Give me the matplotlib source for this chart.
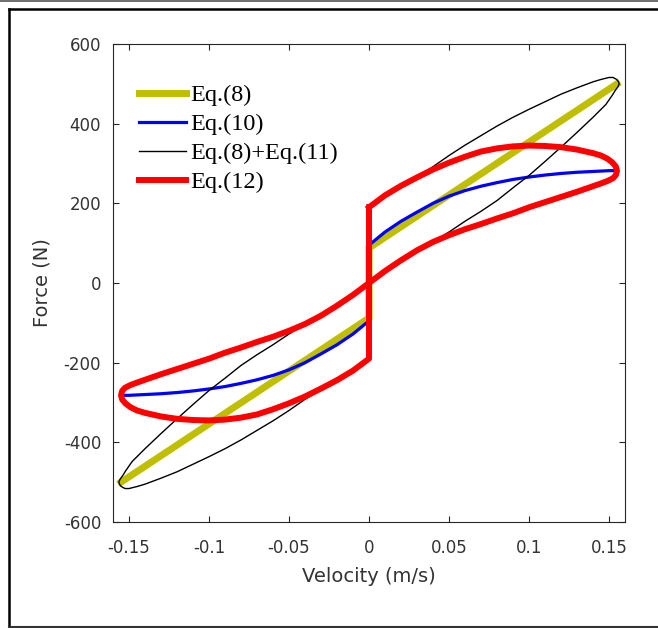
import matplotlib
matplotlib.use("Agg")
import matplotlib.pyplot as plt
from matplotlib.lines import Line2D

# ---- data ----
eq8_v = [-0.155, 0.0, 0.0, 0.155]
eq8_f = [-500, -88, 88, 500]

eq10_v = [-0.155, -0.15, -0.14, -0.13, -0.12, -0.11, -0.10, -0.09, -0.08, -0.07, -0.06, -0.05,
          -0.04, -0.03, -0.02, -0.01, 0.0, 0.0, 0.01, 0.02, 0.03, 0.04, 0.05, 0.06, 0.07, 0.08,
          0.09, 0.10, 0.11, 0.12, 0.13, 0.14, 0.15, 0.155]
eq10_f = [-282, -282, -280, -278, -275, -271, -266, -260, -252, -243, -232, -218,
          -200, -178, -155, -128, -95, 95, 128, 155, 178, 200, 218, 232, 243, 252,
          260, 266, 271, 275, 278, 280, 282, 282]

# Eq.(8)+Eq.(11): closed loop
eq811_v = [0.0, 0.01, 0.02, 0.03, 0.04, 0.05, 0.06, 0.07, 0.08, 0.09, 0.10, 0.11, 0.12, 0.13,
           0.14, 0.145, 0.15, 0.1525, 0.1548, 0.156, 0.1563,
           0.1555, 0.154, 0.152, 0.148, 0.14, 0.13, 0.12, 0.11, 0.10, 0.09, 0.08, 0.07, 0.06,
           0.05, 0.04, 0.03, 0.02, 0.01, 0.0,
           -0.01, -0.02, -0.03, -0.04, -0.05, -0.06, -0.07, -0.08, -0.09, -0.10, -0.11, -0.12,
           -0.13, -0.14, -0.148, -0.152, -0.154, -0.1555, -0.1563,
           -0.156, -0.1548, -0.1525, -0.15, -0.145, -0.14, -0.13, -0.12, -0.11, -0.10, -0.09,
           -0.08, -0.07, -0.06, -0.05, -0.04, -0.03, -0.02, -0.01, 0.0, 0.0]
eq811_f = [190, 218, 243, 268, 292, 320, 346, 370, 394, 416, 436, 455, 474, 490,
           505, 511, 516, 516, 511, 505, 499,
           492, 484, 471, 448, 416, 378, 341, 305, 270, 239, 207, 180, 155,
           128, 104, 82, 57, 30, 0,
           -30, -57, -82, -104, -128, -155, -180, -207, -239, -270, -305, -341,
           -378, -416, -448, -471, -484, -492, -499,
           -505, -511, -516, -516, -511, -505, -490, -474, -455, -436, -416,
           -394, -370, -346, -320, -292, -268, -243, -218, -190, 190]

# Eq.(12): closed loop
eq12_v = [0.0, 0.01, 0.02, 0.03, 0.04, 0.05, 0.06, 0.07, 0.08, 0.09, 0.10, 0.11, 0.12, 0.13,
          0.14, 0.145, 0.149, 0.152, 0.1542, 0.155,
          0.1543, 0.1525, 0.149, 0.145, 0.14, 0.13, 0.12, 0.11, 0.10, 0.09, 0.08, 0.07,
          0.06, 0.05, 0.04, 0.03, 0.02, 0.01, 0.0,
          -0.01, -0.02, -0.03, -0.04, -0.05, -0.06, -0.07, -0.08, -0.09, -0.10, -0.11, -0.12,
          -0.13, -0.14, -0.145, -0.149, -0.1525, -0.1543, -0.155,
          -0.1542, -0.152, -0.149, -0.145, -0.14, -0.13, -0.12, -0.11, -0.10, -0.09, -0.08,
          -0.07, -0.06, -0.05, -0.04, -0.03, -0.02, -0.01, 0.0, 0.0]
eq12_f = [190, 220, 244, 265, 285, 302, 317, 330, 338, 343, 345, 344, 341, 335,
          326, 320, 312, 303, 293, 282,
          271, 263, 256, 250, 243, 229, 216, 203, 190, 175, 162, 148,
          135, 120, 103, 82, 57, 30, 0,
          -30, -57, -82, -103, -120, -135, -148, -162, -175, -190, -203, -216,
          -229, -243, -250, -256, -263, -271, -282,
          -293, -303, -312, -320, -326, -335, -341, -344, -345, -343, -338,
          -330, -317, -302, -285, -265, -244, -220, -190, 190]

x_ticks = [-0.15, -0.1, -0.05, 0, 0.05, 0.1, 0.15]
x_ticklabels = ["-0.15", "-0.1", "-0.05", "0", "0.05", "0.1", "0.15"]
y_ticks = [-600, -400, -200, 0, 200, 400, 600]
y_ticklabels = ["-600", "-400", "-200", "0", "200", "400", "600"]

# ---- figure ----
W, H = 658, 628
fig = plt.figure(figsize=(W / 100, H / 100), dpi=100)
fig.patch.set_facecolor("white")

ax = fig.add_axes([113 / W, 1 - 522 / H, 512 / W, 478 / H])

ax.plot(eq8_v, eq8_f, color="#BFBF00", lw=5.0, solid_joinstyle="miter", label="Eq.(8)", zorder=2)
ax.plot(eq10_v, eq10_f, color="#0000FF", lw=2.3, label="Eq.(10)", zorder=3)
ax.plot(eq811_v, eq811_f, color="black", lw=1.0, label="Eq.(8)+Eq.(11)", zorder=4)
ax.plot(eq12_v, eq12_f, color="#FF0000", lw=4.3, solid_joinstyle="round",
        label="Eq.(12)", zorder=5)

ax.set_xlim(-0.16, 0.16)
ax.set_ylim(-600, 600)
ax.set_xticks(x_ticks)
ax.set_xticklabels(x_ticklabels)
ax.set_yticks(y_ticks)
ax.set_yticklabels(y_ticklabels)

axcol = "#262626"
for s in ax.spines.values():
    s.set_color(axcol)
    s.set_linewidth(0.8)
ax.tick_params(direction="in", length=4, width=0.8, color=axcol, top=True, right=True,
               labelcolor="#333333", labelsize=12)
ax.tick_params(axis="x", pad=12)
ax.tick_params(axis="y", pad=8.5)
for lab in ax.get_xticklabels() + ax.get_yticklabels():
    lab.set_fontfamily("DejaVu Sans")

ax.set_xlabel("Velocity (m/s)", fontsize=14, color="#333333", family="DejaVu Sans")
ax.set_ylabel("Force (N)", fontsize=14, color="#333333", family="DejaVu Sans")
ax.xaxis.set_label_coords(0.5, -0.094)
ax.yaxis.set_label_coords(-0.12, 0.5)

leg = ax.legend(loc="upper left", bbox_to_anchor=(26 / 512, 1 - 40 / 478), frameon=False,
                prop={"family": "Liberation Serif", "size": 17.5}, handlelength=1.95,
                handletextpad=0.17, labelspacing=0.29, borderpad=0, borderaxespad=0)

# figure border lines as in the reference screenshot
fig.add_artist(Line2D([0, 1], [1 - 0.8 / H, 1 - 0.8 / H], transform=fig.transFigure,
                      color="#555555", lw=1.2))
fig.add_artist(Line2D([8.5 / W, 1], [1 - 8.5 / H, 1 - 8.5 / H], transform=fig.transFigure,
                      color="black", lw=1.8))
fig.add_artist(Line2D([8.5 / W, 8.5 / W], [1 - 8.5 / H, 1.5 / H], transform=fig.transFigure,
                      color="black", lw=1.8))
fig.add_artist(Line2D([8.5 / W, 1], [1.5 / H, 1.5 / H], transform=fig.transFigure,
                      color="#333333", lw=1.5))

fig.savefig("out.png", dpi=100)
